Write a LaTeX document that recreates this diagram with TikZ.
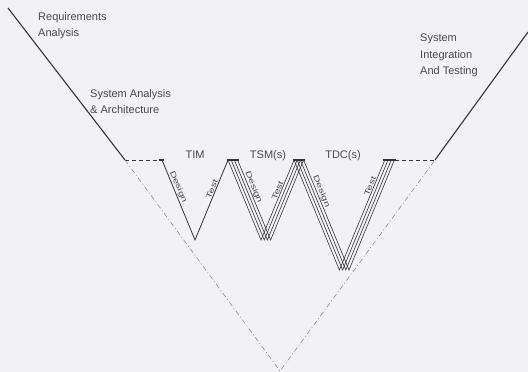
\documentclass[tikz,border=0pt]{standalone}
\usepackage{fontspec}
\setmainfont{Liberation Sans}
\newfontfamily\widefont[FakeStretch=1.45]{Liberation Sans}
\usetikzlibrary{calc}
\definecolor{PaperBg}{HTML}{F1F1F6}
\definecolor{LineDark}{HTML}{353535}
\definecolor{TextGrey}{HTML}{4A4A4A}

\begin{document}
\begin{tikzpicture}[x=1pt, y=-1pt, every node/.style={font=\fontsize{11}{16.5}\selectfont, align=left, text=TextGrey, inner sep=0pt},
    lbl/.style={sloped, above=0.8pt, font=\widefont\fontsize{7.5}{8}\selectfont}]
    \fill[PaperBg] (0,0) rectangle (528,372);
    \useasboundingbox (0,0) rectangle (528,372);

    % outer V
    \coordinate (reqtop) at (8,8);
    \coordinate (leftend) at (125,160);
    \coordinate (rightend) at (435,160);
    \coordinate (inttop) at (528,32);
    \coordinate (apex) at (280,371);
    % inner W
    \coordinate (timL) at (162,160);
    \coordinate (timB) at (195,240);
    \coordinate (tsmL) at (228,160);
    \coordinate (tsmB) at (261,240);
    \coordinate (tdcL) at (294,160);
    \coordinate (tdcB) at (339.4,270);
    \coordinate (tdcR) at (384.8,160);

    \draw[LineDark, line width=1.1pt] (reqtop) -- (leftend);
    \draw[LineDark, line width=1.1pt] (rightend) -- (inttop);
    \draw[LineDark, line width=0.9pt, dash pattern=on 4pt off 3pt] (leftend) -- (timL);
    \draw[LineDark, line width=0.9pt, dash pattern=on 4pt off 3pt] ($(tdcR)+(10,0)$) -- (rightend);
    \draw[gray, line width=0.5pt, dash pattern=on 5pt off 2.5pt on 1pt off 2.5pt] (leftend) -- (apex) -- (rightend);

    % TIM
    \draw[LineDark, line width=0.8pt] (timL) -- node[lbl, pos=0.36] {Design} (timB) -- node[lbl, pos=0.62] {Test} (tsmL);

    % TSM(s) and TDC(s)
    \foreach \i in {0,...,3}
        \draw[LineDark, line width=0.6pt] ($(tsmL)+(3.2*\i,0)$) -- ($(tsmB)+(3.2*\i,0)$) -- ($(tdcL)+(3.2*\i,0)$) -- ($(tdcB)+(3.2*\i,0)$) -- ($(tdcR)+(3.2*\i,0)$);
    \path ($(tsmL)+(9.6,0)$) -- node[lbl, pos=0.36] {Design} ($(tsmB)+(9.6,0)$);
    \path (tsmB) -- node[lbl, pos=0.6] {Test} (tdcL);
    \path ($(tdcL)+(9.6,0)$) -- node[lbl, pos=0.3] {Design} ($(tdcB)+(9.6,0)$);
    \path (tdcB) -- node[lbl, pos=0.75] {Test} (tdcR);

    % end bars
    \draw[LineDark, line width=2.4pt] ($(timL)+(-3,0)$) -- ($(timL)+(2,0)$);
    \draw[LineDark, line width=2.4pt] ($(tsmL)+(-1.5,0)$) -- ($(tsmL)+(11,0)$);
    \draw[LineDark, line width=2.4pt] ($(tdcL)+(-1.5,0)$) -- ($(tdcL)+(11,0)$);
    \draw[LineDark, line width=2.4pt] ($(tdcR)+(-1.5,0)$) -- ($(tdcR)+(11,0)$);

    % labels
    \node[anchor=north west] (req) at (38,12) {Requirements\\Analysis};
    \node[anchor=north west] (sysarch) at (90,89) {System Analysis\\\& Architecture};
    \node[anchor=north west] (sysint) at (420,34) {System\\Integration\\And Testing};
    \node[anchor=base] (tim) at (195,158.5) {TIM};
    \node[anchor=base] (tsm) at (268,158.5) {TSM(s)};
    \node[anchor=base] (tdc) at (343,158.5) {TDC(s)};
\end{tikzpicture}
\end{document}
